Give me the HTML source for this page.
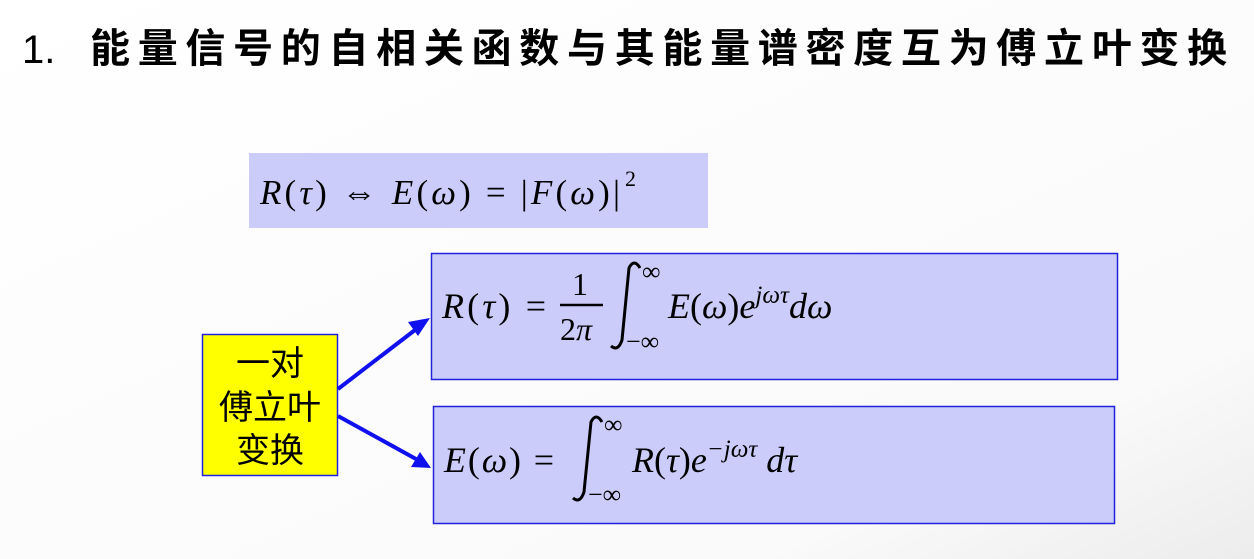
<!DOCTYPE html>
<html><head><meta charset="utf-8"><style>
html,body{margin:0;padding:0;background:#fff;width:1254px;height:559px;overflow:hidden}
svg text{font-family:"Liberation Serif","DejaVu Serif",serif}
.cjk{font-family:"Liberation Sans","Noto Sans CJK SC",sans-serif}
</style></head><body>
<svg width="1254" height="559" xmlns="http://www.w3.org/2000/svg">
<defs><linearGradient id="bg" x1="0" y1="0" x2="1" y2="1"><stop offset="0" stop-color="#fff"/><stop offset="0.8" stop-color="#fafafa"/><stop offset="1" stop-color="#ececec"/></linearGradient></defs>
<rect width="1254" height="559" fill="url(#bg)"/>
<text x="22" y="63" font-size="40" style="font-family:'Liberation Sans',sans-serif">1.</text>
<text x="90" y="62" font-size="40" font-weight="bold" letter-spacing="7.7" class="cjk">能量信号的自相关函数与其能量谱密度互为傅立叶变换</text>

<rect x="249" y="153" width="459" height="75" fill="#ccccfa"/>
<text x="260" y="204" font-size="35" textLength="360" lengthAdjust="spacing"><tspan font-style="italic">R</tspan>(<tspan font-style="italic">τ</tspan>) ⇔ <tspan font-style="italic">E</tspan>(<tspan font-style="italic">ω</tspan>) = |<tspan font-style="italic">F</tspan>(<tspan font-style="italic">ω</tspan>)|</text>
<text x="625" y="186" font-size="22">2</text>

<rect x="431.5" y="253.5" width="686" height="126" fill="#ccccfa" stroke="#2222dd" stroke-width="1.5"/>
<text x="442" y="318" font-size="36" textLength="104" lengthAdjust="spacing"><tspan font-style="italic">R</tspan>(<tspan font-style="italic">τ</tspan>) =</text>
<text x="572" y="295" font-size="32">1</text>
<line x1="560" y1="305" x2="603" y2="305" stroke="#000" stroke-width="2.5"/>
<text x="560" y="340" font-size="32">2<tspan font-style="italic">π</tspan></text>
<path d="M640,268 Q634,258 629,268 L622,340 Q618,352 611,346" fill="none" stroke="#000" stroke-width="3"/>
<text x="642" y="280" font-size="26">∞</text>
<text x="626" y="350" font-size="26">−∞</text>
<text x="668" y="318" font-size="36"><tspan font-style="italic">E</tspan>(<tspan font-style="italic">ω</tspan>)<tspan font-style="italic">e</tspan><tspan font-size="25" dy="-15" font-style="italic">jωτ</tspan><tspan dy="15" font-style="italic">dω</tspan></text>

<rect x="433.5" y="406.5" width="681" height="117" fill="#ccccfa" stroke="#2222dd" stroke-width="1.5"/>
<text x="444" y="472" font-size="36" textLength="110" lengthAdjust="spacing"><tspan font-style="italic">E</tspan>(<tspan font-style="italic">ω</tspan>) =</text>
<path d="M602,422 Q596,412 591,422 L584,492 Q580,504 573,498" fill="none" stroke="#000" stroke-width="3"/>
<text x="604" y="433" font-size="26">∞</text>
<text x="588" y="503" font-size="26">−∞</text>
<text x="632" y="472" font-size="36"><tspan font-style="italic">R</tspan>(<tspan font-style="italic">τ</tspan>)<tspan font-style="italic">e</tspan><tspan font-size="25" dy="-15" font-style="italic">−jωτ</tspan><tspan dy="15" font-style="italic"> dτ</tspan></text>

<rect x="202.5" y="334.5" width="135" height="141" fill="#ffff00" stroke="#2222dd" stroke-width="1.5"/>
<text x="270" y="375" font-size="34" text-anchor="middle" class="cjk">一对</text>
<text x="270" y="419" font-size="34" text-anchor="middle" class="cjk">傅立叶</text>
<text x="270" y="462" font-size="34" text-anchor="middle" class="cjk">变换</text>

<line x1="338" y1="389" x2="415" y2="330" stroke="#1010ee" stroke-width="4"/>
<polygon points="430,318 408,322 418,336" fill="#1010ee"/>
<line x1="338" y1="416" x2="416" y2="459" stroke="#1010ee" stroke-width="4"/>
<polygon points="431,468 411,467 420,452" fill="#1010ee"/>
</svg>
</body></html>
